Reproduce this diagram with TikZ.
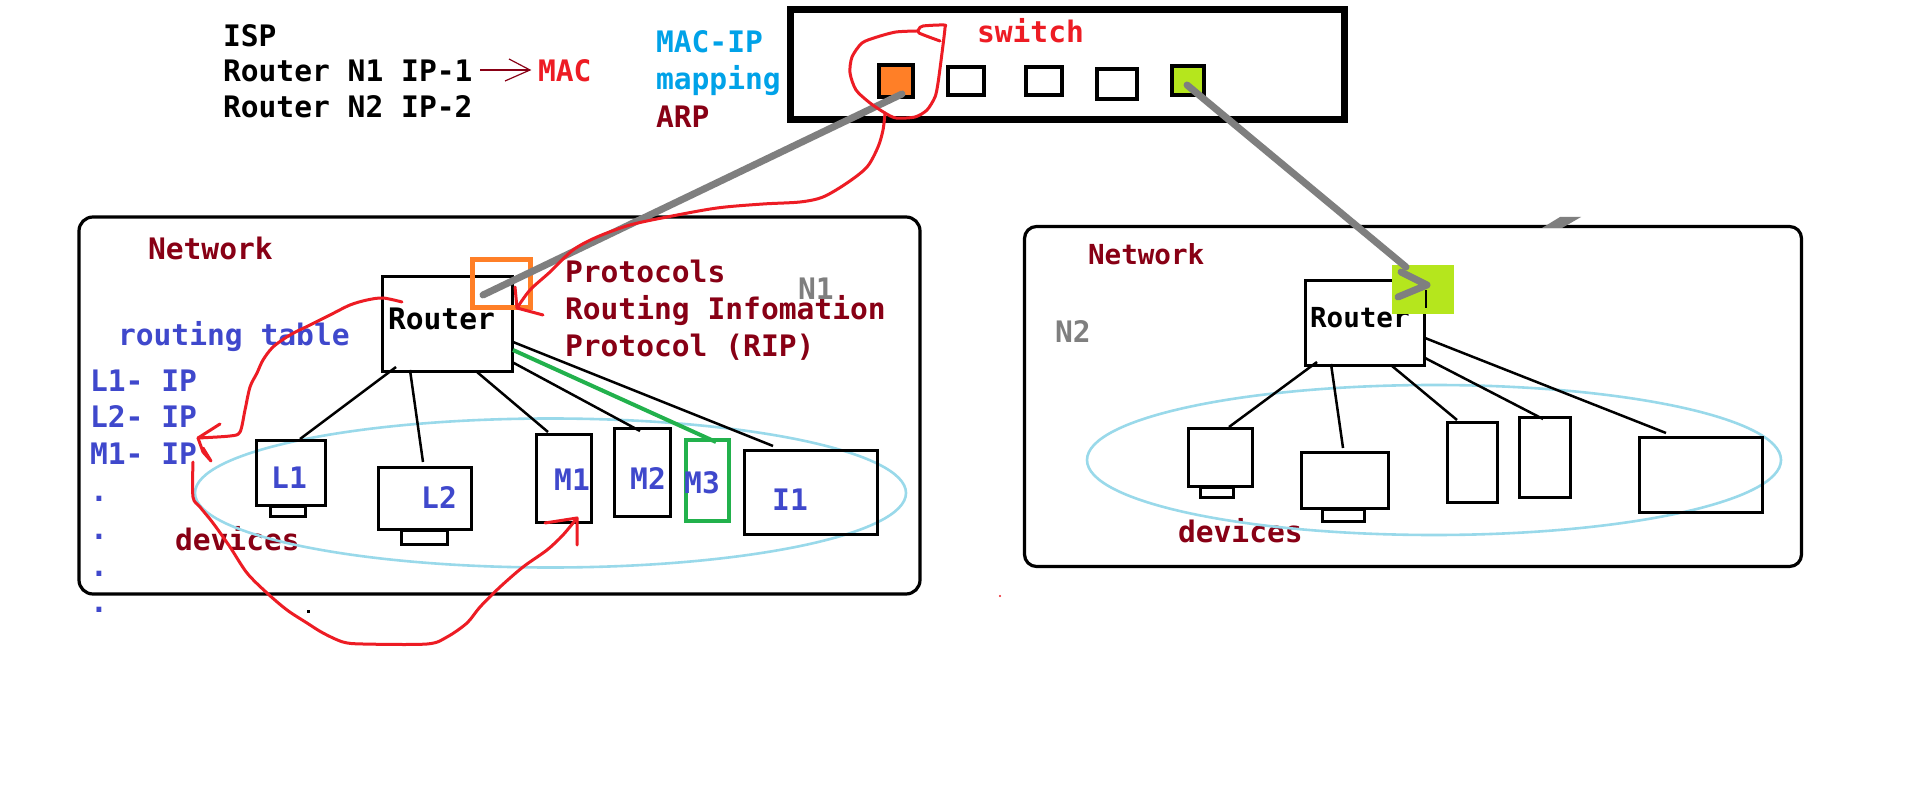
\documentclass[tikz,border=0pt]{standalone}
\usepackage{fontspec}
\newfontfamily\dvm{DejaVu Sans Mono}
\usetikzlibrary{fit}
\definecolor{dred}{HTML}{880015}
\definecolor{pblue}{HTML}{3F48CC}
\definecolor{sky}{HTML}{00A2E8}
\definecolor{pred}{HTML}{ED1C24}
\definecolor{porange}{HTML}{FF7F27}
\definecolor{lime}{HTML}{B5E61D}
\definecolor{pgreen}{HTML}{22B14C}
\definecolor{pgray}{HTML}{7F7F7F}
\definecolor{lblue}{HTML}{99D9EA}
\begin{document}
\begin{tikzpicture}[x=0.5pt,y=-0.5pt,
  txt/.style={inner sep=0pt,outer sep=0pt,anchor=base west,font=\dvm\bfseries\fontsize{14.8pt}{18pt}\selectfont},
  txtc/.style={txt,anchor=base},
  txts/.style={txt,font=\dvm\bfseries\fontsize{13.8pt}{17pt}\selectfont},
  rbox/.style={draw=black,line width=1.5pt,inner sep=0pt,outer sep=0pt},
  stand/.style={rbox,line width=1.25pt},
  port/.style={rbox,line width=1.75pt},
  netbox/.style={draw=black,line width=1.6pt,rounded corners=7pt,inner sep=0pt,outer sep=0pt},
  conn/.style={draw=black,line width=1.25pt},
  redpen/.style={draw=pred,line width=1.5pt,line cap=round,line join=round},
  graypen/.style={draw=pgray,line width=3.5pt,line cap=round,line join=round},
  halo/.style={draw=lblue,line width=1.3pt}]
\useasboundingbox[fill=white] (0,0) rectangle (1914,806);

% ---------- top-left texts ----------
\node[txt] (isp) at (223,47) {ISP};
\node[txt] (rn1) at (223,82) {Router N1 IP-1};
\node[txt] (rn2) at (223,118) {Router N2 IP-2};
\node[txt,text=pred] (mac) at (538,82) {MAC};
\coordinate (macA) at (480,70);
\coordinate (macB) at (530,70);
\draw[dred,line width=0.6pt] (macA) -- (macB);
\draw[dred,line width=0.6pt] (509,59) -- (macB) -- (505,81);
\node[txt,text=sky] (macip) at (656,53) {MAC-IP};
\node[txt,text=sky] (mapping) at (656,90) {mapping};
\node[txt,text=dred] (arp) at (656,128) {ARP};

% ---------- switch ----------
\node[rbox,line width=3.5pt,fit={(790.5,9.5)(1344.5,119.5)}] (switch) {};
\node[txt,text=pred] (swlbl) at (977,43) {switch};
\node[port,fill=porange,fit={(879,65)(913,97)}] (p1) {};
\node[port,fit={(948,67)(984,95)}] (p2) {};
\node[port,fit={(1026,67)(1062,95)}] (p3) {};
\node[port,fit={(1097,69)(1137,99)}] (p4) {};
\node[port,fill=lime,fit={(1172,66)(1204,95)}] (p5) {};

% ---------- left network ----------
\node[netbox,fit={(79,217)(920,594)}] (net1) {};
\node[txt,text=dred] (net1lbl) at (148,260) {Network};
\node[rbox,fit={(382.5,276.5)(512.5,371.5)}] (r1) {};
\node[txt] (r1lbl) at (388,330) {Router};
\node[rbox,draw=porange,line width=2.5pt,fit={(472.5,259.5)(530.5,307.5)}] (r1port) {};
\node[txt,text=pblue] (rt) at (118,346) {routing table};
\node[txt,text=pblue] (rtl1) at (90,392) {L1- IP};
\node[txt,text=pblue] (rtl2) at (90,428) {L2- IP};
\node[txt,text=pblue] (rtm1) at (90,465) {M1- IP};
\node[txt,text=pblue] (d1) at (90,502) {.};
\node[txt,text=pblue] (d2) at (90,539) {.};
\node[txt,text=pblue] (d3) at (90,576) {.};
\node[txt,text=pblue] (d4) at (90,612) {.};
\node[txt,text=dred] (dev1) at (175,550) {devices};
\node[txt,text=dred] (pr1) at (565,283) {Protocols};
\node[txt,text=dred] (pr2) at (565,320) {Routing Infomation};
\node[txt,text=dred] (pr3) at (565,357) {Protocol (RIP)};
\node[txt,text=pgray] (n1) at (798,300) {N1};

\draw[halo] (550.5,493) ellipse [x radius=355.5, y radius=74.5];

\node[rbox,fit={(256.5,440.5)(325.5,505.5)}] (L1) {};
\node[stand,fit={(270.5,506.5)(305.5,516.5)}] (L1s) {};
\node[rbox,fit={(378.5,467.5)(471.5,529.5)}] (L2) {};
\node[stand,fit={(401.5,531)(447.5,544.5)}] (L2s) {};
\node[rbox,fit={(536.5,434.5)(591.5,522.5)}] (M1) {};
\node[rbox,fit={(614.5,428.5)(670.5,516.5)}] (M2) {};
\node[rbox,draw=pgreen,line width=2pt,fit={(686,440)(729,521)}] (M3) {};
\node[rbox,fit={(744.5,450.5)(877.5,534.5)}] (I1) {};
\node[txtc,text=pblue] at (289,488) {L1};
\node[txtc,text=pblue] at (439,508) {L2};
\node[txtc,text=pblue] at (572,490) {M1};
\node[txtc,text=pblue] at (648,489) {M2};
\node[txtc,text=pblue] at (702,493) {M3};
\node[txtc,text=pblue] at (790,510) {I1};

\coordinate (r1a) at (396,367); \coordinate (L1t) at (300,439);
\coordinate (r1b) at (410,370); \coordinate (L2t) at (423,462);
\coordinate (r1c) at (477,372); \coordinate (M1t) at (548,432);
\coordinate (r1d) at (512,362); \coordinate (M2t) at (640,431);
\coordinate (r1e) at (513,342); \coordinate (I1t) at (773,446);
\coordinate (r1f) at (513,350); \coordinate (M3t) at (716,442);
\draw[conn] (r1a) -- (L1t);
\draw[conn] (r1b) -- (L2t);
\draw[conn] (r1c) -- (M1t);
\draw[conn] (r1d) -- (M2t);
\draw[conn] (r1e) -- (I1t);
\draw[draw=pgreen,line width=2pt] (r1f) -- (M3t);

% ---------- right network ----------
\node[netbox,rounded corners=6pt,fit={(1024.5,226.5)(1801.5,566.5)}] (net2) {};
\node[txts,text=dred] (net2lbl) at (1088,265) {Network};
\node[txt,text=pgray] (n2) at (1055,343) {N2};
\node[rbox,fit={(1305.5,280.5)(1424.5,365.5)}] (r2) {};
\node[txts] (r2lbl) at (1310,328) {Router};
\node[fill=lime,inner sep=0pt,outer sep=0pt,fit={(1392,265)(1454,314)}] (r2port) {};
\draw[black,line width=1.25pt] (1426,290) -- (1426,308);
\node[txt,text=dred] (dev2) at (1178,542) {devices};

\draw[halo] (1434,460) ellipse [x radius=347, y radius=75];

\node[rbox,fit={(1188.5,428.5)(1252.5,486.5)}] (D1) {};
\node[stand,fit={(1200.5,487.5)(1233.5,497.5)}] (D1s) {};
\node[rbox,fit={(1301.5,452.5)(1388.5,508.5)}] (D2) {};
\node[stand,fit={(1322.5,510)(1364.5,521.5)}] (D2s) {};
\node[rbox,fit={(1447.5,422.5)(1497.5,502.5)}] (D3) {};
\node[rbox,fit={(1519.5,417.5)(1570.5,497.5)}] (D4) {};
\node[rbox,fit={(1639.5,437.5)(1762.5,512.5)}] (D5) {};

\coordinate (r2a) at (1317,362); \coordinate (D1t) at (1229,427);
\coordinate (r2b) at (1331,364); \coordinate (D2t) at (1343,448);
\coordinate (r2c) at (1392,366); \coordinate (D3t) at (1457,420);
\coordinate (r2d) at (1425,358); \coordinate (D4t) at (1543,419);
\coordinate (r2e) at (1425,338); \coordinate (D5t) at (1666,433);
\draw[conn] (r2a) -- (D1t);
\draw[conn] (r2b) -- (D2t);
\draw[conn] (r2c) -- (D3t);
\draw[conn] (r2d) -- (D4t);
\draw[conn] (r2e) -- (D5t);

% ---------- cables switch -> routers ----------
\coordinate (p1c) at (902,94);
\coordinate (r1in) at (483,295);
\draw[graypen] (p1c) -- (r1in);
\coordinate (p5c) at (1187,85);
\coordinate (r2in) at (1406,267);
\coordinate (r2tip) at (1427,285);
\draw[graypen] (p5c) -- (r2in);
\draw[graypen] (1401,272) -- (r2tip) -- (1398,297);

% small marks
\fill[pgray] (1560,217) -- (1581,217) -- (1562,228) -- (1542,228) -- cycle;
\fill[black] (306.5,609.5) rectangle (309.5,612.5);
\fill[pred] (1000,596) circle [radius=1.2];

% ---------- red hand-drawn arrows ----------
\draw[redpen] plot[smooth,tension=0.45] coordinates {(940,41) (919,33) (919,29) (923,26) (944,25) (945,28) (942,53) (938,83) (935,97) (927,110) (915,117) (896,118) (885,113) (870,103) (856,90) (850,73) (852,57) (862,43) (877,37) (896,32) (917,31)};
\coordinate (loopb) at (885,113);
\coordinate (r1tip) at (517,308);
\draw[redpen] plot[smooth,tension=0.5] coordinates {(loopb) (883,130) (878,147) (867,167) (847,183) (823,197) (800,202) (763,204) (717,208) (667,217) (630,225) (597,237) (573,250) (550,272) (530,290) (r1tip)};
\draw[redpen] (515,287) -- (r1tip) -- (543,315);

\coordinate (r1top) at (402,302);
\coordinate (rttip) at (198,438);
\draw[redpen] plot[smooth,tension=0.5] coordinates {(r1top) (383,298) (367,300) (350,305) (330,315) (310,325) (290,335) (273,347) (263,360) (257,373) (250,387) (245,410) (240,432) (230,436) (rttip)};
\draw[redpen] (220,424) -- (rttip) -- (203,452) -- (211,461) -- (203,448);

\coordinate (m1ip) at (193,462);
\coordinate (M1tip) at (577,518);
\draw[redpen] plot[smooth,tension=0.5] coordinates {(m1ip) (193,497) (200,507) (213,523) (230,547) (247,573) (267,593) (287,610) (307,623) (323,633) (343,642) (363,644) (427,644) (447,637) (467,623) (480,607) (500,587) (523,567) (547,550) (563,535) (M1tip)};
\draw[redpen] (545,523) -- (M1tip) -- (577,545);
\end{tikzpicture}
\end{document}
